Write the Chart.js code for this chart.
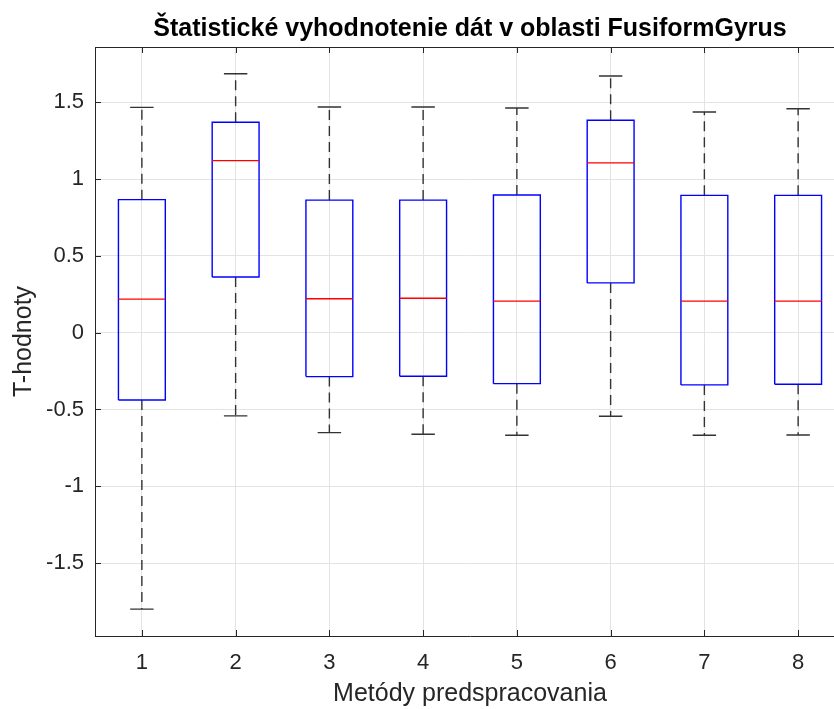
<!DOCTYPE html>
<html lang="sk">
<head>
  <meta charset="UTF-8" />
  <title>FusiformGyrus</title>
  <script src="https://cdn.jsdelivr.net/npm/chart.js"></script>
  <style>
    body { margin: 0; background: #fff; overflow: hidden; }
  </style>
</head>
<body>
  <canvas id="boxChart" width="870" height="709"></canvas>

  <script>
    // hodnoty odčítané z grafu
    const methods = [1, 2, 3, 4, 5, 6, 7, 8];
    const whiskerHigh = [1.467, 1.686, 1.469, 1.469, 1.463, 1.671, 1.437, 1.458];
    const q3 = [0.866, 1.370, 0.863, 0.863, 0.896, 1.383, 0.894, 0.894];
    const median = [0.219, 1.120, 0.221, 0.224, 0.206, 1.105, 0.206, 0.206];
    const q1 = [-0.438, 0.362, -0.286, -0.284, -0.332, 0.324, -0.340, -0.336];
    const whiskerLow = [-1.800, -0.542, -0.651, -0.661, -0.668, -0.544, -0.668, -0.666];
    const yTickValues = [-1.5, -1, -0.5, 0, 0.5, 1, 1.5];

    const boxHalf = 0.25, capHalf = 0.125;
    const gap = x => ({ x, y: null });

    const boxPts = [], medPts = [], whiskPts = [], capPts = [];
    methods.forEach((m, i) => {
      boxPts.push({ x: m - boxHalf, y: q1[i] }, { x: m + boxHalf, y: q1[i] },
                  { x: m + boxHalf, y: q3[i] }, { x: m - boxHalf, y: q3[i] },
                  { x: m - boxHalf, y: q1[i] }, gap(m));
      medPts.push({ x: m - boxHalf, y: median[i] }, { x: m + boxHalf, y: median[i] }, gap(m));
      whiskPts.push({ x: m, y: q3[i] }, { x: m, y: whiskerHigh[i] }, gap(m),
                    { x: m, y: q1[i] }, { x: m, y: whiskerLow[i] }, gap(m));
      capPts.push({ x: m - capHalf, y: whiskerHigh[i] }, { x: m + capHalf, y: whiskerHigh[i] }, gap(m),
                  { x: m - capHalf, y: whiskerLow[i] }, { x: m + capHalf, y: whiskerLow[i] }, gap(m));
    });

    const axisColor = '#262626';
    const font = 'Liberation Sans, Arial, sans-serif';

    // ticky smerujúce dovnútra + horný okraj
    const innerTicks = {
      id: 'innerTicks',
      afterDraw(chart) {
        const { ctx, chartArea: a, scales } = chart;
        ctx.save();
        ctx.strokeStyle = axisColor;
        ctx.lineWidth = 1;
        ctx.beginPath();
        ctx.moveTo(a.left, a.top + 0.5);
        ctx.lineTo(a.right, a.top + 0.5);
        scales.y.ticks.forEach(t => {
          const py = Math.round(scales.y.getPixelForValue(t.value)) + 0.5;
          ctx.moveTo(a.left, py); ctx.lineTo(a.left + 6, py);
        });
        scales.x.ticks.forEach(t => {
          const px = Math.round(scales.x.getPixelForValue(t.value)) + 0.5;
          ctx.moveTo(px, a.bottom); ctx.lineTo(px, a.bottom - 6);
          ctx.moveTo(px, a.top); ctx.lineTo(px, a.top + 6);
        });
        ctx.stroke();
        ctx.restore();
      }
    };

    const lineDs = (data, color, width, dash) => ({
      type: 'line', data, borderColor: color, borderWidth: width,
      borderDash: dash || [], pointRadius: 0, fill: false, tension: 0,
      spanGaps: false, borderCapStyle: 'butt', borderJoinStyle: 'miter'
    });

    new Chart(document.getElementById('boxChart'), {
      type: 'line',
      data: {
        datasets: [
          lineDs(medPts, '#ff0000', 1.3),
          lineDs(boxPts, '#0000ff', 1.4),
          lineDs(capPts, '#333333', 1.4),
          lineDs(whiskPts, '#333333', 1.4, [10, 6])
        ]
      },
      options: {
        responsive: false,
        animation: false,
        layout: { padding: { left: 0, right: 25, top: 0, bottom: 0 } },
        plugins: {
          legend: { display: false },
          tooltip: { enabled: false },
          title: {
            display: true,
            fullSize: false,
            text: 'Štatistické vyhodnotenie dát v oblasti FusiformGyrus',
            color: '#000',
            font: { family: font, size: 25, weight: 'bold', lineHeight: 1.2 },
            padding: { top: 14, bottom: 3 }
          }
        },
        scales: {
          x: {
            type: 'linear', min: 0.5, max: 8.5,
            afterBuildTicks: s => { s.ticks = methods.map(v => ({ value: v })); },
            afterFit: s => { s.height = 73; },
            grid: { color: '#e3e3e3', drawTicks: false },
            border: { color: axisColor, width: 1 },
            ticks: { color: axisColor, padding: 14, font: { family: font, size: 22 },
                     callback: v => String(v) },
            title: { display: true, text: 'Metódy predspracovania', color: axisColor,
                     font: { family: font, size: 25, lineHeight: 1.2 }, padding: { top: 0, bottom: 0 } }
          },
          y: {
            type: 'linear', min: -1.975, max: 1.86,
            afterBuildTicks: s => { s.ticks = yTickValues.map(v => ({ value: v })); },
            afterFit: s => { s.width = 95; },
            grid: { color: '#e3e3e3', drawTicks: false },
            border: { color: axisColor, width: 1 },
            ticks: { color: axisColor, padding: 11, font: { family: font, size: 22 },
                     callback: v => String(v) },
            title: { display: true, text: 'T-hodnoty', color: axisColor,
                     font: { family: font, size: 25, lineHeight: 1.2 }, padding: { top: 9, bottom: 0 } }
          }
        }
      },
      plugins: [innerTicks]
    });
  </script>
</body>
</html>
